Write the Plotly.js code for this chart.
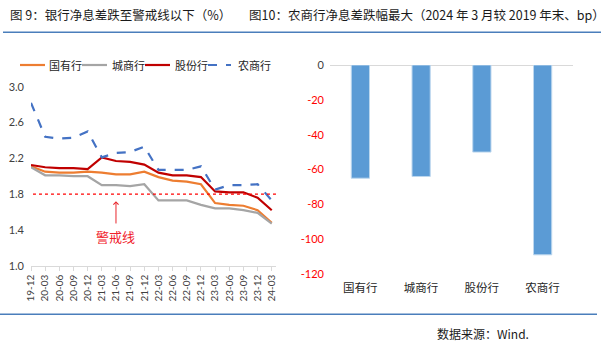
<!DOCTYPE html>
<html><head><meta charset="utf-8">
<script src="https://cdn.plot.ly/plotly-3.0.1.min.js"></script>
<style>html,body{margin:0;padding:0;background:#fff;}#chart{width:614px;height:351px;}</style>
</head><body><div id="chart"></div>
<script>
// ---- data ----
const dates = ['19-12','20-03','20-06','20-09','20-12','21-03','21-06','21-09','21-12','22-03','22-06','22-09','22-12','23-03','23-06','23-09','23-12','24-03'];
const stateOwned = [2.11,2.05,2.04,2.04,2.05,2.04,2.02,2.02,2.05,1.99,1.95,1.94,1.91,1.70,1.68,1.67,1.62,1.48];
const cityComm   = [2.10,2.01,2.01,2.00,2.00,1.90,1.90,1.89,1.91,1.73,1.73,1.73,1.68,1.64,1.64,1.62,1.59,1.47];
const jointStock = [2.125,2.10,2.09,2.09,2.08,2.21,2.17,2.16,2.13,2.04,2.01,2.01,1.99,1.83,1.82,1.82,1.76,1.62];
const rural      = [2.82,2.44,2.42,2.43,2.50,2.21,2.26,2.27,2.33,2.07,2.07,2.07,2.11,1.85,1.90,1.90,1.91,1.73];
const seriesNames = ['国有行','城商行','股份行','农商行'];
const warningLevel = 1.8;
const warningLabel = '警戒线';
const leftTickVals = [1.0,1.4,1.8,2.2,2.6,3.0];
const leftTickText = ['1.0','1.4','1.8','2.2','2.6','3.0'];

const bankTypes = ['国有行','城商行','股份行','农商行'];
const nimChangeBp = [-65,-64,-50,-109];
const rightTickVals = [0,-20,-40,-60,-80,-100,-120];
const rightTickText = ['0','-20','-40','-60','-80','-100','-120'];

const title1 = '图 9：银行净息差跌至警戒线以下（%）';
const title2 = '图10：农商行净息差跌幅最大（2024 年 3 月较 2019 年末、bp）';
const sourceText = '数据来源：Wind.';

// ---- layout helpers ----
const W = 614, H = 351;
const px = v => v / W;
const py = v => (H - v) / H;
const CJK = '"Noto Sans CJK SC", "Noto Sans", sans-serif';
const NUM = 'Lato, "Noto Sans", sans-serif';

const lineStyles = [
  {color:'#ed7d31', width:2.2},
  {color:'#a5a5a5', width:2.2},
  {color:'#c00000', width:2.2},
  {color:'#4472c4', width:2.2, dash:'dash'}
];
const lineData = [stateOwned, cityComm, jointStock, rural];

const traces = lineData.map((d,i)=>({
  type:'scatter', mode:'lines', x:dates, y:d, name:seriesNames[i],
  line:lineStyles[i], xaxis:'x', yaxis:'y', hoverinfo:'skip', showlegend:false
}));
traces.push({
  type:'bar', x:bankTypes, y:nimChangeBp, xaxis:'x2', yaxis:'y2', width:0.3,
  marker:{color:'#5b9bd5', line:{color:'#bdd7ee', width:1}}, showlegend:false, hoverinfo:'skip'
});

// manual legend (positions in px)
const legendSlots = [
  {x0:20, x1:45, tx:47},
  {x0:82, x1:107, tx:110},
  {x0:145, x1:170, tx:173},
  {x0:208, x1:231, tx:236}
];
const legendY = 65;
const legendShapes = legendSlots.map((s,i)=>({
  type:'line', xref:'paper', yref:'paper', x0:px(s.x0), x1:px(s.x1), y0:py(legendY), y1:py(legendY),
  line:{color:lineStyles[i].color, width:2.2, dash:lineStyles[i].dash||'solid'}
}));
const legendTexts = legendSlots.map((s,i)=>({
  xref:'paper', yref:'paper', x:px(s.tx), y:py(legendY), xanchor:'left', yanchor:'middle',
  text:seriesNames[i], showarrow:false, font:{family:CJK, size:11, color:'#262626'}
}));

const layout = {
  width:W, height:H, autosize:false,
  margin:{l:0,r:0,t:0,b:0},
  paper_bgcolor:'#fff', plot_bgcolor:'#fff',
  showlegend:false,
  xaxis:{domain:[px(31), px(276)], type:'category', range:[0,17.3], anchor:'y',
    showline:true, linecolor:'#d9d9d9', linewidth:1, ticks:'outside', ticklen:4, tickcolor:'#d9d9d9',
    tickangle:-90, tickfont:{family:NUM, size:10, color:'#404040'}, showgrid:false, zeroline:false,
    fixedrange:true},
  yaxis:{domain:[py(265.7), py(86.7)], range:[1.0,3.0], anchor:'x', tickvals:leftTickVals, ticktext:leftTickText,
    showgrid:false, zeroline:false, showline:false, ticks:'', ticklabelstandoff:6,
    tickfont:{family:NUM, size:11, color:'#404040'}},
  xaxis2:{domain:[px(330), px(573)], type:'category', range:[-0.5,3.5], anchor:'y2',
    showline:false, ticks:'', showgrid:false, zeroline:false, ticklabelstandoff:5,
    tickfont:{family:CJK, size:11.5, color:'#262626'}},
  yaxis2:{domain:[py(274), py(65)], range:[-120,0], anchor:'x2',
    tickvals:rightTickVals, ticktext:rightTickText.map(t=> t==='0' ? '<span style="color:#404040">0</span>' : t),
    showgrid:false, zeroline:true, zerolinecolor:'#d9d9d9', zerolinewidth:1, showline:false, ticks:'',
    ticklabelstandoff:5, tickfont:{family:NUM, size:11, color:'#ff0000'}},
  shapes:[
    {type:'line', xref:'paper', yref:'paper', x0:px(3), x1:px(601), y0:py(32.3), y1:py(32.3), line:{color:'#4a7ebb', width:1.5}},
    {type:'line', xref:'paper', yref:'paper', x0:0, x1:px(597), y0:py(314.3), y1:py(314.3), line:{color:'#4a7ebb', width:1.5}},
    {type:'line', xref:'x domain', yref:'y', x0:0.008, x1:1, y0:warningLevel, y1:warningLevel, line:{color:'#ff0000', width:1.3, dash:'dot'}}
  ].concat(legendShapes),
  annotations:[
    {xref:'x', yref:'y', x:dates[6], y:1.72, axref:'x', ayref:'y', ax:dates[6], ay:1.455, showarrow:true,
      arrowhead:4, arrowsize:1, arrowwidth:1, arrowcolor:'#e8262c', text:''},
    {xref:'x', yref:'y', x:dates[6], y:1.33, text:warningLabel, showarrow:false,
      font:{family:CJK, size:13, color:'#f0212b'}},
    {xref:'paper', yref:'paper', x:px(8), y:py(14), xanchor:'left', yanchor:'middle', text:title1, showarrow:false,
      font:{family:CJK, size:12.5, color:'#1a1a1a'}},
    {xref:'paper', yref:'paper', x:px(247), y:py(14), xanchor:'left', yanchor:'middle', text:title2, showarrow:false,
      font:{family:CJK, size:12.5, color:'#1a1a1a'}},
    {xref:'paper', yref:'paper', x:px(435), y:py(333), xanchor:'left', yanchor:'middle', text:sourceText, showarrow:false,
      font:{family:CJK, size:12, color:'#1a1a1a'}}
  ].concat(legendTexts)
};

Plotly.newPlot('chart', traces, layout, {staticPlot:true, displayModeBar:false});
</script></body></html>
